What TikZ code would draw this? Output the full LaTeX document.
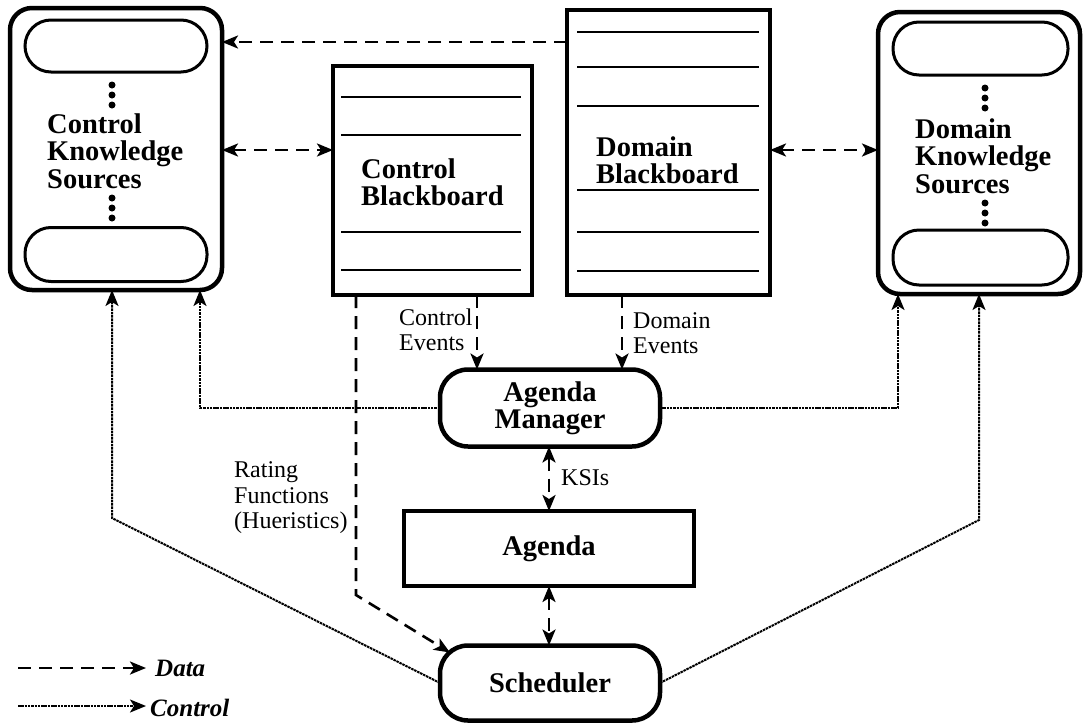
\documentclass[tikz,border=0pt]{standalone}
\usepackage{fontspec}
\setmainfont{Liberation Serif}
\usetikzlibrary{arrows.meta,calc}
\begin{document}
\begin{tikzpicture}[x=1pt,y=-1pt,
  ksbox/.style={draw,line width=4.5pt,rounded corners=22pt,outer sep=0pt,inner sep=0pt},
  capsule/.style={draw,line width=3pt,rounded corners=26pt,minimum width=#1,outer sep=0pt,inner sep=0pt},
  bbbox/.style={draw,line width=4.5pt,outer sep=0pt,inner sep=0pt},
  bbline/.style={line width=2.8pt},
  procbox/.style={draw,line width=4.5pt,rounded corners=28pt,outer sep=0pt,inner sep=0pt,
    minimum width=220pt,minimum height=77pt,align=center,font=\bigtxt},
  bigtext/.style={inner sep=0pt,align=left,font=\bigtxt},
  smalltext/.style={inner sep=0pt,align=left,font=\smalltxt},
  dataline/.style={line width=2.6pt,dash pattern=on 13pt off 8pt},
  ctrlline/.style={line width=2pt,dash pattern=on 2.5pt off 0.8pt},
  tip/.style={-{Stealth[length=16pt,width=13pt,inset=4pt]}},
  tips/.style={{Stealth[length=16pt,width=13pt,inset=4pt]}-{Stealth[length=16pt,width=13pt,inset=4pt]}},
  dotmark/.style={circle,fill,inner sep=0pt,minimum size=7pt}
]
\newcommand\bigtxt{\fontsize{28.5}{27.5}\selectfont\bfseries}
\newcommand\smalltxt{\fontsize{24}{25.5}\selectfont}
\useasboundingbox (0,0) rectangle (1083,723);

% Control knowledge sources
\node[ksbox,minimum width=212pt,minimum height=282pt] (cks) at (116,149) {};
\node[capsule=182pt,minimum height=52pt] (cks1) at (116,46) {};
\node[capsule=182pt,minimum height=54pt] (cks2) at (116,254.5) {};
\foreach \yy in {85,95,105,198,208,218} \node[dotmark] at (112,\yy) {};
\node[bigtext,anchor=west] (ckst) at (47,151) {Control\\Knowledge\\Sources};

% Domain knowledge sources
\node[ksbox,minimum width=202pt,minimum height=282pt] (dks) at (979,153) {};
\node[capsule=175pt,minimum height=53pt] (dks1) at (980.5,48.5) {};
\node[capsule=175pt,minimum height=55pt] (dks2) at (980.5,257.5) {};
\foreach \yy in {88,98,108,203,213,223} \node[dotmark] at (985,\yy) {};
\node[bigtext,anchor=west] (dkst) at (915,156) {Domain\\Knowledge\\Sources};

% Control blackboard
\node[bbbox,minimum width=199pt,minimum height=229pt] (cbb) at (432.5,180.5) {};
\foreach \yy in {97,135,232,270} \draw[bbline] (341,\yy) -- (521,\yy);
\node[bigtext,anchor=west] (cbbt) at (361,182) {Control\\Blackboard};

% Domain blackboard
\node[bbbox,minimum width=203pt,minimum height=285pt] (dbb) at (668.5,152.5) {};
\foreach \yy in {32,67,106,190,232,271} \draw[bbline] (577,\yy) -- (759,\yy);
\node[bigtext,anchor=west] (dbbt) at (596,160) {Domain\\Blackboard};

% Agenda manager, agenda, scheduler
\node[procbox] (am) at (550,408) {Agenda\\Manager};
\node[bbbox,minimum width=290pt,minimum height=75pt,font=\bigtxt] (ag) at (549,548.5) {Agenda};
\node[procbox,minimum height=75pt] (sch) at (550,683) {Scheduler};

% Data connectors
\draw[dataline,tip] (dbb.west |- 0,42) -- (cks.east |- 0,42);
\draw[dataline,tips] (cks.east |- 0,150) -- (cbb.west |- 0,150);
\draw[dataline,tips] (dbb.east |- 0,150) -- (dks.west |- 0,150);
\draw[dataline,tip] (cbb.south -| 477,0) -- (am.north -| 477,0);
\draw[dataline,tip] (dbb.south -| 622,0) -- (am.north -| 622,0);
\draw[dataline,tips] (am.south -| 549,0) -- (ag.north -| 549,0);
\draw[dataline,tips] (ag.south -| 549,0) -- (sch.north -| 549,0);
\coordinate (rfbend) at (356,595);
\coordinate (rfend) at ($(sch.north west)+(10,7)$);
\draw[dataline,tip] (cbb.south -| 356,0) -- (rfbend) -- (rfend);

% Control connectors
\coordinate (amL) at (200,408);
\coordinate (amR) at (898,408);
\coordinate (schL) at (112,518);
\coordinate (schR) at (979,520);
\draw[ctrlline,tip] (am.west) -- (amL) -- (cks.south -| amL);
\draw[ctrlline,tip] (am.east) -- (amR) -- (dks.south -| amR);
\draw[ctrlline,tip] (sch.west) -- (schL) -- (cks.south -| schL);
\draw[ctrlline,tip] (sch.east) -- (schR) -- (dks.south -| schR);

% Labels
\node[smalltext,anchor=west] (cev) at (399,330) {Control\\Events};
\node[smalltext,anchor=west] (dev) at (633,333) {Domain\\Events};
\node[smalltext,anchor=west] (ksi) at (561,478) {KSIs};
\node[smalltext,anchor=west] (rfl) at (234,498) {Rating\\Functions\\(Hueristics)};

% Legend
\coordinate (l1a) at (18,668);
\coordinate (l1b) at (146,668);
\coordinate (l2a) at (18,706);
\coordinate (l2b) at (146,706);
\draw[dataline,tip] (l1a) -- (l1b);
\draw[ctrlline,tip] (l2a) -- (l2b);
\node[inner sep=0pt,anchor=west,font=\fontsize{25}{25}\selectfont\bfseries\itshape] (ldata) at (155,668) {Data};
\node[inner sep=0pt,anchor=west,font=\fontsize{25}{25}\selectfont\bfseries\itshape] (lctrl) at (150,708) {Control};
\end{tikzpicture}
\end{document}
